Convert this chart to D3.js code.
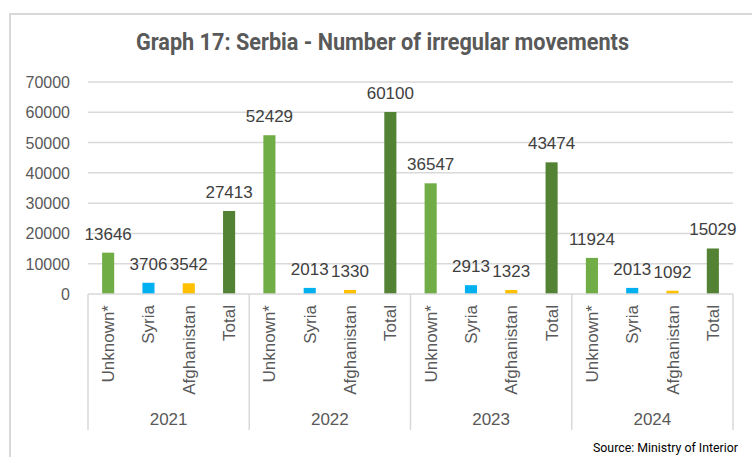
<!DOCTYPE html>
<html>
<head>
<meta charset="utf-8">
<script src="https://cdn.jsdelivr.net/npm/d3@7"></script>
<style>
  body { margin: 0; background: #fff; }
  svg { display: block; }
</style>
</head>
<body>
<div id="chart"></div>
<script>
// data
var years = ['2021', '2022', '2023', '2024'];
var categories = ['Unknown*', 'Syria', 'Afghanistan', 'Total'];
var unknownVals = [13646, 52429, 36547, 11924];
var syriaVals = [3706, 2013, 2913, 2013];
var afghanVals = [3542, 1330, 1323, 1092];
var totalVals = [27413, 60100, 43474, 15029];
var yTicks = [0, 10000, 20000, 30000, 40000, 50000, 60000, 70000];

var colors = ['#70AD47', '#00B0F0', '#FFC000', '#548235'];
var seriesVals = [unknownVals, syriaVals, afghanVals, totalVals];

var width = 752, height = 457;
var plotLeft = 88, plotRight = 733, plotTop = 82, plotBottom = 294;
var textColor = '#595959';
var gridColor = '#d9d9d9';

var svg = d3.select('#chart').append('svg')
	.attr('width', width)
	.attr('height', height);

// outer frame
svg.append('rect')
	.attr('x', 10).attr('y', 14)
	.attr('width', 760).attr('height', 460)
	.attr('fill', 'none')
	.attr('stroke', gridColor)
	.attr('stroke-width', 2);

svg.append('text')
	.attr('x', 382.5).attr('y', 50)
	.attr('text-anchor', 'middle')
	.attr('font-family', 'Roboto')
	.attr('font-weight', 'bold')
	.attr('font-size', 23)
	.attr('fill', textColor)
	.attr('textLength', 493)
	.attr('lengthAdjust', 'spacingAndGlyphs')
	.text('Graph 17: Serbia - Number of irregular movements');

var yScale = d3.scaleLinear()
	.domain([0, 70000])
	.range([plotBottom, plotTop]);

var groupScale = d3.scaleBand()
	.domain(years)
	.range([plotLeft, plotRight]);

var catScale = d3.scaleBand()
	.domain(categories)
	.range([0, groupScale.bandwidth()])
	.paddingInner(0.7)
	.paddingOuter(0.35);

// gridlines
svg.append('g')
	.selectAll('line')
	.data(yTicks.slice(1))
	.join('line')
		.attr('x1', plotLeft).attr('x2', plotRight)
		.attr('y1', function(d){ return yScale(d) })
		.attr('y2', function(d){ return yScale(d) })
		.attr('stroke', gridColor)
		.attr('stroke-width', 1.5);

// y labels
svg.append('g')
	.selectAll('text')
	.data(yTicks)
	.join('text')
		.attr('x', 70)
		.attr('y', function(d){ return yScale(d) + 6 })
		.attr('text-anchor', 'end')
		.attr('font-family', 'Liberation Sans')
		.attr('font-size', 16)
		.attr('fill', textColor)
		.text(function(d){ return d });

// bars
var rows = [];
years.forEach(function(yr, i){
	categories.forEach(function(cat, j){
		rows.push({ year: yr, cat: cat, value: seriesVals[j][i], color: colors[j] });
	});
});

var barX = function(d){ return groupScale(d.year) + catScale(d.cat) };

svg.append('g')
	.selectAll('rect')
	.data(rows)
	.join('rect')
		.attr('x', barX)
		.attr('y', function(d){ return yScale(d.value) })
		.attr('width', catScale.bandwidth())
		.attr('height', function(d){ return plotBottom - yScale(d.value) })
		.attr('fill', function(d){ return d.color });

svg.append('g')
	.selectAll('text')
	.data(rows)
	.join('text')
		.attr('x', function(d){ return barX(d) + catScale.bandwidth() / 2 })
		.attr('y', function(d){ return yScale(d.value) - 13 })
		.attr('text-anchor', 'middle')
		.attr('font-family', 'Liberation Sans')
		.attr('font-size', 17)
		.attr('fill', '#404040')
		.text(function(d){ return d.value });

// category axis
var axisG = svg.append('g');

axisG.append('line')
	.attr('x1', plotLeft).attr('x2', plotRight)
	.attr('y1', plotBottom).attr('y2', plotBottom)
	.attr('stroke', gridColor)
	.attr('stroke-width', 1.5);

var seps = years.map(function(y){ return groupScale(y) }).concat([plotRight]);
axisG.selectAll('line.sep')
	.data(seps)
	.join('line')
		.attr('class', 'sep')
		.attr('x1', function(d){ return d }).attr('x2', function(d){ return d })
		.attr('y1', plotBottom).attr('y2', 430)
		.attr('stroke', gridColor)
		.attr('stroke-width', 1.5);

axisG.selectAll('text.cat')
	.data(rows)
	.join('text')
		.attr('class', 'cat')
		.attr('transform', function(d){
			var cx = barX(d) + catScale.bandwidth() / 2 + 6;
			return 'translate(' + cx + ',305) rotate(-90)';
		})
		.attr('text-anchor', 'end')
		.attr('font-family', 'Liberation Sans')
		.attr('font-size', 17)
		.attr('fill', textColor)
		.text(function(d){ return d.cat });

axisG.selectAll('text.year')
	.data(years)
	.join('text')
		.attr('class', 'year')
		.attr('x', function(d){ return groupScale(d) + groupScale.bandwidth() / 2 })
		.attr('y', 425)
		.attr('text-anchor', 'middle')
		.attr('font-family', 'Liberation Sans')
		.attr('font-size', 17)
		.attr('fill', textColor)
		.text(function(d){ return d });

svg.append('text')
	.attr('x', 738).attr('y', 452)
	.attr('text-anchor', 'end')
	.attr('font-family', 'Roboto')
	.attr('font-size', 12)
	.attr('fill', '#000')
	.attr('textLength', 145)
	.attr('lengthAdjust', 'spacingAndGlyphs')
	.text('Source: Ministry of Interior');
</script>
</body>
</html>
